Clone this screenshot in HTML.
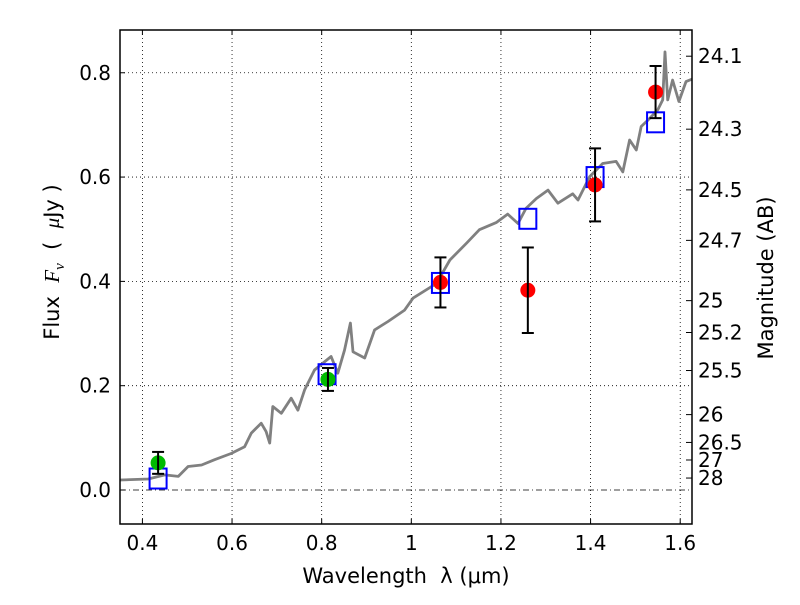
<!DOCTYPE html>
<html><head><meta charset="utf-8"><style>
html,body{margin:0;padding:0;background:#fff;}
svg text{font-family:"DejaVu Sans","Liberation Sans",sans-serif;white-space:pre;}
</style></head><body>
<svg id="chart" width="800" height="600" xmlns="http://www.w3.org/2000/svg"></svg>
<script>
const xTicks=[0.4,0.6,0.8,1.0,1.2,1.4,1.6];
const xTickLabels=["0.4","0.6","0.8","1","1.2","1.4","1.6"];
const yTicks=[0.0,0.2,0.4,0.6,0.8];
const yTickLabels=["0.0","0.2","0.4","0.6","0.8"];
const magTicks=[24.1,24.3,24.5,24.7,25,25.2,25.5,26,26.5,27,28];
const magLabels=["24.1","24.3","24.5","24.7","25","25.2","25.5","26","26.5","27","28"];
const specX=[0.346,0.413,0.45,0.48,0.502,0.532,0.561,0.598,0.628,0.643,0.665,0.676,0.684,0.691,0.71,0.732,0.747,0.762,0.784,0.821,0.836,0.851,0.864,0.87,0.896,0.918,0.948,0.985,1.004,1.056,1.086,1.123,1.152,1.19,1.215,1.238,1.256,1.279,1.305,1.327,1.36,1.372,1.398,1.427,1.457,1.472,1.487,1.502,1.513,1.528,1.55,1.561,1.566,1.572,1.583,1.597,1.613,1.627];
const specY=[0.019,0.021,0.029,0.026,0.045,0.048,0.058,0.070,0.083,0.109,0.128,0.112,0.09,0.16,0.147,0.176,0.153,0.192,0.23,0.256,0.224,0.268,0.32,0.265,0.253,0.307,0.323,0.345,0.368,0.396,0.441,0.473,0.499,0.513,0.529,0.511,0.54,0.559,0.575,0.55,0.568,0.556,0.601,0.626,0.63,0.61,0.671,0.652,0.697,0.709,0.729,0.748,0.84,0.748,0.786,0.745,0.783,0.788];
const greenX=[0.435,0.814];
const greenY=[0.052,0.212];
const greenErr=[0.021,0.022];
const redX=[1.065,1.26,1.41,1.545];
const redY=[0.398,0.383,0.585,0.763];
const redErr=[0.048,0.082,0.07,0.05];
const modelX=[0.435,0.812,1.065,1.26,1.41,1.545];
const modelY=[0.022,0.222,0.397,0.52,0.6,0.705];

const L=120,R=692,T=30,B=524;
const X0=0.35,X1=1.6263,Y0=-0.0652,Y1=0.882;
function sx(v){return L+(v-X0)/(X1-X0)*(R-L);}
function sy(v){return B-(v-Y0)/(Y1-Y0)*(B-T);}
const NS="http://www.w3.org/2000/svg";
const svg=document.getElementById('chart');
function mk(tag,attrs,parent){const e=document.createElementNS(NS,tag);for(const k in attrs)e.setAttribute(k,attrs[k]);(parent||svg).appendChild(e);return e;}

xTicks.forEach((t,i)=>{
  const g=mk('line',{x1:sx(t),x2:sx(t),y1:T,y2:B,stroke:'#000','stroke-width':0.8,'stroke-dasharray':'1,3'});
  
  
  mk('line',{x1:sx(t),x2:sx(t),y1:B,y2:B-5,stroke:'#000'});
  mk('line',{x1:sx(t),x2:sx(t),y1:T,y2:T+5,stroke:'#000'});
  const tx=mk('text',{x:sx(t),y:B+26,'font-size':20,'text-anchor':'middle'});
  tx.textContent=xTickLabels[i];
  
  
});
yTicks.forEach((t,i)=>{
  const g=mk('line',{x1:L,x2:R,y1:sy(t),y2:sy(t),stroke:'#000','stroke-width':0.8,'stroke-dasharray':t===0?'6,3,1,3':'1,3'});
  
  
  mk('line',{x1:L,x2:L+5,y1:sy(t),y2:sy(t),stroke:'#000'});
  const tx=mk('text',{x:L-9,y:sy(t)+7,'font-size':20,'text-anchor':'end'});
  tx.textContent=yTickLabels[i];
  
  
});
magTicks.forEach((m,i)=>{
  const f=Math.pow(10,(23.9-m)/2.5);
  const y=sy(f);
  mk('line',{x1:R,x2:R-6,y1:y,y2:y,stroke:'#000'});
  const tx=mk('text',{x:R+6,y:y+7,'font-size':20});
  tx.textContent=magLabels[i];
  
  
});
const defs=mk('defs',{});const cp=mk('clipPath',{id:'clip'},defs);mk('rect',{x:L,y:T,width:R-L,height:B-T},cp);
let d='';specX.forEach((x,i)=>{d+=(i?'L':'M')+sx(x).toFixed(1)+','+sy(specY[i]).toFixed(1);});
const sp=mk('path',{d:d,fill:'none',stroke:'#808080','stroke-width':2.8,'stroke-linejoin':'round','clip-path':'url(#clip)'});


modelX.forEach((x,i)=>{
  const r=mk('rect',{x:sx(x)-8.5,y:sy(modelY[i])-10,width:17,height:20,fill:'none',stroke:'#0000ff','stroke-width':2});
  
  
});
function pts(xs,ys,es,color,name){
  xs.forEach((x,i)=>{
    const cx=sx(x),cy=sy(ys[i]);
    const c=mk('circle',{cx:cx,cy:cy,r:7.5,fill:color});
    
    
    const y1=sy(ys[i]+es[i]),y2=sy(ys[i]-es[i]);
    const eb=mk('g',{stroke:'#000','stroke-width':2});
    
    
    mk('line',{x1:cx,x2:cx,y1:y1,y2:y2},eb);
    mk('line',{x1:cx-6,x2:cx+6,y1:y1,y2:y1},eb);
    mk('line',{x1:cx-6,x2:cx+6,y1:y2,y2:y2},eb);
  });
}
pts(greenX,greenY,greenErr,'#00bb00','optical-data-point');
pts(redX,redY,redErr,'#ff0000','nir-data-point');
const fr=mk('rect',{x:L,y:T,width:R-L,height:B-T,fill:'none',stroke:'#000','stroke-width':1.5});


const xl=mk('text',{x:406,y:583,'font-size':21,'text-anchor':'middle'});
xl.textContent='Wavelength  λ (μm)';


const yl=mk('text',{x:0,y:0,'font-size':21,'text-anchor':'middle',transform:'translate(59,262) rotate(-90)'});
yl.innerHTML='Flux  <tspan font-style="italic" font-family="Liberation Serif, serif">F</tspan><tspan font-style="italic" font-family="Liberation Serif, serif" font-size="15" dy="5">ν</tspan><tspan dy="-5">  (  </tspan><tspan font-style="italic" font-family="Liberation Serif, serif">μ</tspan>Jy )';


const rl=mk('text',{x:0,y:0,'font-size':21,'text-anchor':'middle',transform:'translate(773,278) rotate(-90)'});
rl.textContent='Magnitude (AB)';


</script>
</body></html>
